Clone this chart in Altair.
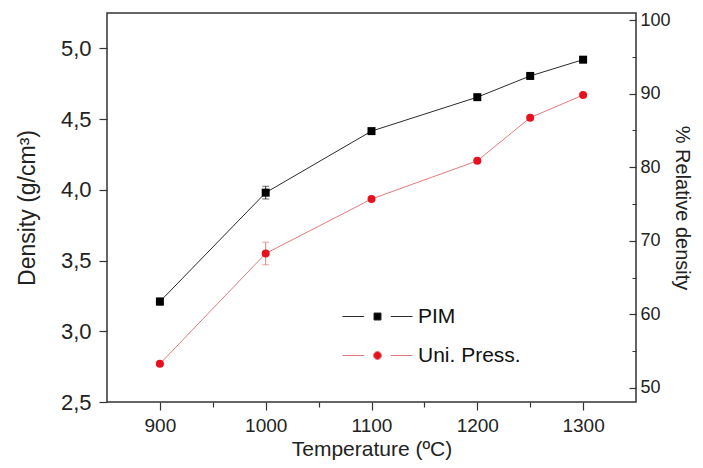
import altair as alt
import pandas as pd

# ---- data ----
temps = [900, 1000, 1100, 1200, 1250, 1300]
pim_density = [3.21, 3.98, 4.415, 4.655, 4.805, 4.92]
pim_err = [0.025, 0.045, 0.01, 0.01, 0.01, 0.01]
uni_density = [2.77, 3.55, 3.935, 4.205, 4.51, 4.67]
uni_err = [0.01, 0.08, 0.01, 0.01, 0.01, 0.01]
series_names = ["PIM", "Uni. Press."]
theoretical_density = 5.2  # g/cm3 -> 100 %

x_domain = [850, 1350]
y_domain = [2.5, 5.25]
x_major = [900, 1000, 1100, 1200, 1300]
x_minor = [950, 1050, 1150, 1250]
y_major = [2.5, 3.0, 3.5, 4.0, 4.5, 5.0]
y_minor = [2.75, 3.25, 3.75, 4.25, 4.75]
r_major = [50, 60, 70, 80, 90, 100]
r_minor = [55, 65, 75, 85, 95]

marker_colors = ["#000000", "#e8101c"]
line_colors = ["#2b2b2b", "#e27b7b"]
marker_shapes = ["square", "circle"]
legend_paths = [
    "M-7,0H-2.66M2.66,0H7M-0.7,-0.7H0.7V0.7H-0.7Z",
    "M-7,0H-2.66M2.66,0H7M-0.8,0A0.8,0.8,0,1,1,0.8,0A0.8,0.8,0,1,1,-0.8,0Z",
]

FONT = "Liberation Sans"

rows = []
for name, dens, errs in [(series_names[0], pim_density, pim_err),
                         (series_names[1], uni_density, uni_err)]:
    for t, d, e in zip(temps, dens, errs):
        rows.append({"series": name, "temp": t, "density": d,
                     "lo": d - e, "hi": d + e})
df = pd.DataFrame(rows)

x_axis = alt.Axis(
    values=x_major + x_minor,
    labelExpr="datum.value % 100 == 0 ? format(datum.value, 'd') : ''",
    tickSize={"condition": {"test": "datum.value % 100 != 0", "value": 5}, "value": 8},
    labelFontSize=19, labelPadding=6, titleFontSize=21, titlePadding=3,
    labelOverlap=False,
)
y_test_minor = "abs(datum.value*2 - round(datum.value*2)) > 0.001"
y_axis = alt.Axis(
    values=y_major + y_minor,
    labelExpr="abs(datum.value*2 - round(datum.value*2)) < 0.001 ? replace(format(datum.value, '.1f'), '.', ',') : ''",
    tickSize={"condition": {"test": y_test_minor, "value": 5}, "value": 8},
    labelFontSize=22, labelPadding=8, titleFontSize=23, titlePadding=21,
    labelOverlap=False,
)
r_axis = alt.Axis(
    orient="right",
    values=r_major + r_minor,
    labelExpr="datum.value % 10 == 0 ? format(datum.value, 'd') : ''",
    offset=-7, tickSize=7,
    tickDash={"condition": {"test": "datum.value % 10 != 0", "value": [0, 3, 4, 20]}, "value": [20, 0]},
    labelFontSize=18, labelPadding=4, titleFontSize=20, titlePadding=1,
    labelOverlap=False,
)

X = alt.X("temp:Q", scale=alt.Scale(domain=x_domain, nice=False, zero=False),
          axis=x_axis, title="Temperature (ºC)")
Y = alt.Y("density:Q", scale=alt.Scale(domain=y_domain, nice=False, zero=False),
          axis=y_axis, title="Density (g/cm³)")

base = alt.Chart(df)
layers = []
for i, name in enumerate(series_names):
    sub = base.transform_filter(alt.datum.series == name)
    layers.append(sub.mark_line(strokeWidth=1, color=line_colors[i]).encode(x=X, y=Y))
    layers.append(sub.mark_rule(strokeWidth=1, color=line_colors[i]).encode(
        x=X, y=alt.Y("lo:Q"), y2="hi:Q"))
    layers.append(sub.mark_tick(orient="horizontal", size=7, thickness=1,
                                color=line_colors[i]).encode(x=X, y=alt.Y("lo:Q")))
    layers.append(sub.mark_tick(orient="horizontal", size=7, thickness=1,
                                color=line_colors[i]).encode(x=X, y=alt.Y("hi:Q")))
    layers.append(sub.mark_point(filled=True, size=64, opacity=1,
                                 shape=marker_shapes[i], color=marker_colors[i]).encode(x=X, y=Y))

legend = alt.Legend(title=None, orient="none", legendX=260, legendY=293,
                    symbolSize=100, labelFont=FONT, labelFontSize=21,
                    labelColor="#111", labelOffset=30, rowPadding=17,
                    symbolStrokeWidth=1)
legend_layer = base.transform_filter("false").mark_point(
    filled=True, strokeWidth=1, size=100, opacity=1).encode(
    fill=alt.Fill("series:N", scale=alt.Scale(domain=series_names, range=marker_colors), legend=legend),
    stroke=alt.Stroke("series:N", scale=alt.Scale(domain=series_names, range=line_colors), legend=legend),
    shape=alt.Shape("series:N", scale=alt.Scale(domain=series_names, range=legend_paths), legend=legend),
)
layers.append(legend_layer)

main = alt.layer(*layers)

r_domain = [y_domain[0] / theoretical_density * 100, y_domain[1] / theoretical_density * 100]
right = base.transform_calculate(
    rel=f"datum.density / {theoretical_density} * 100"
).mark_point(opacity=0).encode(
    y=alt.Y("rel:Q", scale=alt.Scale(domain=r_domain, nice=False, zero=False),
            axis=r_axis, title="% Relative density")
)

chart = alt.layer(main, right).resolve_scale(y="independent").properties(
    width=529, height=389,
    autosize=alt.AutoSizeParams(type="none"),
    padding={"left": 99, "top": 5, "right": 59, "bottom": 58},
).configure_view(stroke="#333333", strokeWidth=1.5).configure_axis(
    grid=False, domain=False, labelFont=FONT, titleFont=FONT,
    titleFontWeight="normal", tickColor="#333333", tickWidth=1.2,
    labelColor="#222222", titleColor="#222222",
)

chart.save("out.html", embed_options={"renderer": "svg", "actions": False})
